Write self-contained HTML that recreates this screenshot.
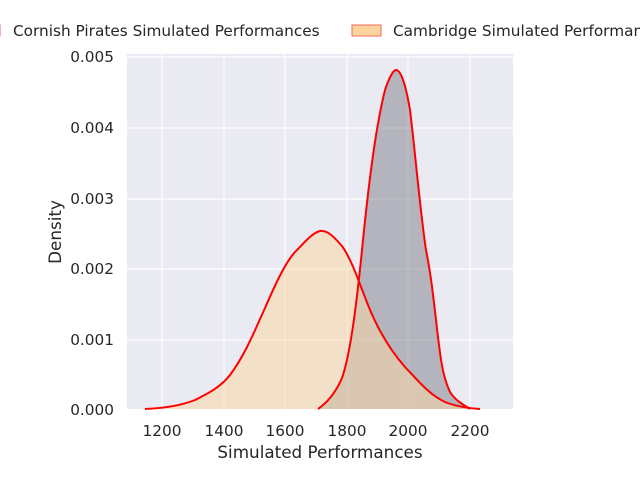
<!DOCTYPE html>
<html><head><style>body{margin:0;background:#fff}</style></head><body>
<svg width="640" height="480" xmlns="http://www.w3.org/2000/svg" font-family="DejaVu Sans, Liberation Sans, sans-serif">
<rect x="127" y="54" width="386" height="355" fill="#eaeaf2"/>
<g stroke="#fff" stroke-width="1.2">
<line x1="162" y1="54" x2="162" y2="409"/><line x1="224" y1="54" x2="224" y2="409"/><line x1="285" y1="54" x2="285" y2="409"/><line x1="347" y1="54" x2="347" y2="409"/><line x1="408" y1="54" x2="408" y2="409"/><line x1="470" y1="54" x2="470" y2="409"/>
<line x1="127" y1="340" x2="513" y2="340"/><line x1="127" y1="269" x2="513" y2="269"/><line x1="127" y1="199" x2="513" y2="199"/><line x1="127" y1="128" x2="513" y2="128"/><line x1="127" y1="57" x2="513" y2="57"/>
</g>
<path d="M318,409 C328,402 336,392 342,378 C350,355 356,310 362,250 C368,190 375,130 385,90 C390,75 394,70 396,70 C400,70 405,80 410,110 C415,150 420,210 426,250 C430,270 432,285 436,320 C440,355 442,375 450,392 C455,400 462,404 470,409 Z" fill="#7e7e8c" fill-opacity="0.5" stroke="none"/>
<path d="M145,409 C170,408 185,404 195,400 C205,395 220,388 230,375 C245,355 255,330 265,308 C275,285 285,263 295,252 C305,242 312,233 320,231 C328,230 335,238 342,246 C352,260 360,285 368,305 C378,330 390,350 405,367 C420,383 430,395 445,402 C455,406 465,408 480,409 Z" fill="#f8d7a8" fill-opacity="0.55" stroke="none"/>
<path d="M318,409 C328,402 336,392 342,378 C350,355 356,310 362,250 C368,190 375,130 385,90 C390,75 394,70 396,70 C400,70 405,80 410,110 C415,150 420,210 426,250 C430,270 432,285 436,320 C440,355 442,375 450,392 C455,400 462,404 470,409" fill="none" stroke="red" stroke-width="2"/>
<path d="M145,409 C170,408 185,404 195,400 C205,395 220,388 230,375 C245,355 255,330 265,308 C275,285 285,263 295,252 C305,242 312,233 320,231 C328,230 335,238 342,246 C352,260 360,285 368,305 C378,330 390,350 405,367 C420,383 430,395 445,402 C455,406 465,408 480,409" fill="none" stroke="red" stroke-width="2"/>
<g font-size="15.3" fill="#262626">
<g text-anchor="middle"><text x="162" y="436">1200</text><text x="224" y="436">1400</text><text x="285" y="436">1600</text><text x="347" y="436">1800</text><text x="408" y="436">2000</text><text x="470" y="436">2200</text></g>
<g text-anchor="end"><text x="114" y="415">0.000</text><text x="114" y="345">0.001</text><text x="114" y="274">0.002</text><text x="114" y="204">0.003</text><text x="114" y="133">0.004</text><text x="114" y="62">0.005</text></g>
<text x="320" y="458" text-anchor="middle" font-size="16.8">Simulated Performances</text>
<text transform="translate(61,232) rotate(-90)" text-anchor="middle" font-size="16.8">Density</text>
<text x="13" y="36">Cornish Pirates Simulated Performances</text>
<text x="393" y="36">Cambridge Simulated Performances</text>
</g>
<rect x="-20" y="25" width="20" height="11" fill="#b0b0bb" stroke="#f06060"/>
<rect x="352" y="25" width="29" height="11" fill="#fdd49e" stroke="#f06a5a"/>
</svg>
</body></html>
